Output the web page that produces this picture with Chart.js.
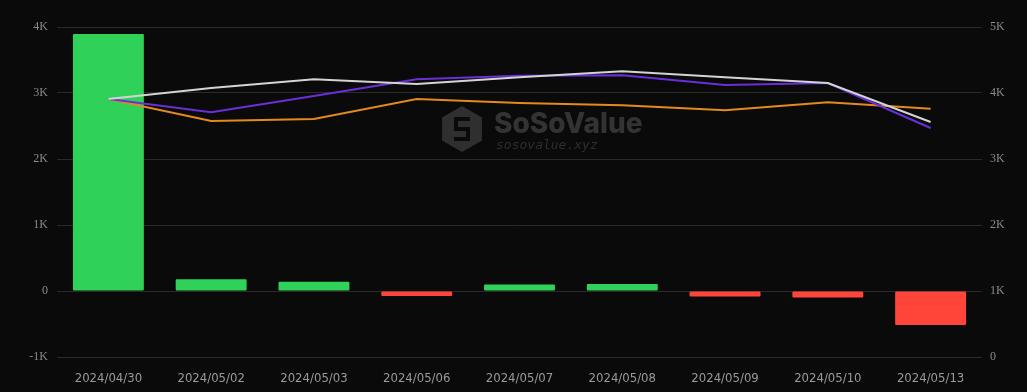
<!DOCTYPE html>
<html>
<head>
<meta charset="utf-8">
<script src="https://cdn.jsdelivr.net/npm/chart.js@4.4.1/dist/chart.umd.min.js"></script>
<style>
  html,body{margin:0;padding:0;background:#0a0a0a;}
  #wrap{width:1027px;height:392px;position:relative;}
</style>
</head>
<body>
<div id="wrap"><canvas id="flowChart"></canvas></div>
<script>
/* ---------------- data ---------------- */
const dates = ["2024/04/30","2024/05/02","2024/05/03","2024/05/06","2024/05/07","2024/05/08","2024/05/09","2024/05/10","2024/05/13"];
const netFlow   = [3895, 178, 140, -75, 100, 105, -85, -100, -515];
const whiteLine = [3910, 4075, 4210, 4135, 4240, 4330, 4240, 4150, 3560];
const purpleLine= [3910, 3710, 3955, 4210, 4260, 4270, 4120, 4150, 3470];
const orangeLine= [3910, 3575, 3605, 3910, 3850, 3815, 3740, 3860, 3760];
const leftTicks = [-1000, 0, 1000, 2000, 3000, 4000];
const rightTicks= [0, 1000, 2000, 3000, 4000, 5000];

const GREEN="#30d158", RED="#ff453a";
const fmtK = v => v===0 ? "0" : (v/1000)+"K";

/* watermark drawn under datasets */
const watermark={
  id:"watermark",
  beforeDatasetsDraw(chart){
    const {ctx}=chart;
    ctx.save();
    const cx=462, cy=129, r=23;
    ctx.fillStyle="#2f2f2f";
    ctx.beginPath();
    for(let i=0;i<6;i++){
      const a=Math.PI/3*i-Math.PI/2;
      const x=cx+r*Math.cos(a), y=cy+r*Math.sin(a);
      i?ctx.lineTo(x,y):ctx.moveTo(x,y);
    }
    ctx.closePath(); ctx.fill();
    ctx.strokeStyle="#0a0a0a"; ctx.lineWidth=4;
    ctx.beginPath();
    ctx.moveTo(cx+8,cy-10); ctx.lineTo(cx-6,cy-10); ctx.lineTo(cx-6,cy); ctx.lineTo(cx+6,cy); ctx.lineTo(cx+6,cy+10); ctx.lineTo(cx-8,cy+10);
    ctx.stroke();
    ctx.fillStyle="#333333";
    ctx.font="800 28px Inter, 'Open Sans', sans-serif";
    ctx.textBaseline="alphabetic";
    ctx.fillText("SoSoValue",494,133);
    ctx.font="italic 13px 'DejaVu Sans Mono', monospace";
    ctx.fillStyle="#2e2e2e";
    ctx.fillText("sosovalue.xyz",496,149);
    ctx.restore();
  }
};

const tickFont={family:"'Liberation Serif','DejaVu Serif',serif",size:12};

new Chart(document.getElementById("flowChart"),{
  type:"bar",
  data:{labels:dates,datasets:[
    {type:"line",label:"White",data:whiteLine,yAxisID:"yR",borderColor:"#d4d4d4",borderWidth:2,pointRadius:0,tension:0,order:1},
    {type:"line",label:"Purple",data:purpleLine,yAxisID:"yR",borderColor:"#6a2fd8",borderWidth:2,pointRadius:0,tension:0,order:2},
    {type:"line",label:"Orange",data:orangeLine,yAxisID:"yR",borderColor:"#e48a1c",borderWidth:2,pointRadius:0,tension:0,order:3},
    {label:"Net Flow",data:netFlow,yAxisID:"y",backgroundColor:netFlow.map(v=>v>=0?GREEN:RED),
     borderRadius:1,borderSkipped:false,categoryPercentage:0.69,barPercentage:1,order:4}
  ]},
  options:{
    responsive:true,maintainAspectRatio:false,animation:false,
    layout:{padding:{top:27,bottom:0,left:0,right:0}},
    plugins:{legend:{display:false},tooltip:{enabled:false}},
    scales:{
      x:{grid:{display:false},border:{display:false},
         ticks:{color:"#9a9a9a",padding:6,maxRotation:0,autoSkip:false,
                font:{family:"'DejaVu Sans Condensed','Liberation Sans Narrow','DejaVu Sans',sans-serif",size:13}},
         afterFit(s){s.height=35;}},
      y:{position:"left",min:-1000,max:4000,
         afterBuildTicks(s){s.ticks=leftTicks.map(v=>({value:v}));},
         grid:{color:"#2a2a2a",lineWidth:1,drawTicks:false},border:{display:false},
         ticks:{color:"#8a8a8a",padding:9,font:tickFont,callback:fmtK},
         afterFit(s){s.width=57;}},
      yR:{position:"right",min:0,max:5000,
         afterBuildTicks(s){s.ticks=rightTicks.map(v=>({value:v}));},
         grid:{display:false,drawTicks:false},border:{display:false},
         ticks:{color:"#8a8a8a",padding:8,font:tickFont,callback:fmtK},
         afterFit(s){s.width=45;}}
    }
  },
  plugins:[watermark]
});
</script>
</body>
</html>
